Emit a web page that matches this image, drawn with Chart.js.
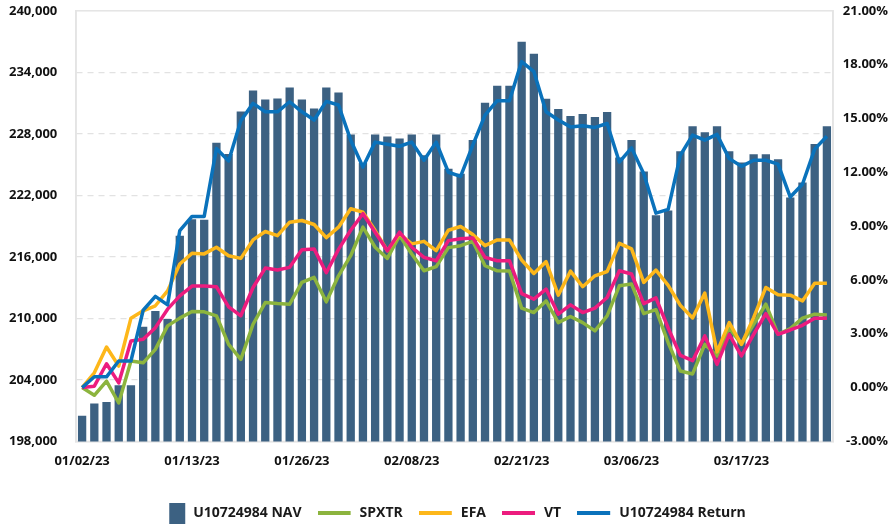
<!DOCTYPE html>
<html>
<head>
<meta charset="utf-8">
<script src="https://cdn.jsdelivr.net/npm/chart.js@4.4.1/dist/chart.umd.min.js"></script>
<style>
  html, body { margin: 0; padding: 0; background: #fff; }
  #wrap { width: 892px; height: 524px; }
</style>
</head>
<body>
<div id="wrap"><canvas id="navChart" width="892" height="524"></canvas></div>
<script>
const dates = [
  "01/02/23","01/03/23","01/04/23","01/05/23","01/06/23","01/09/23","01/10/23","01/11/23","01/12/23","01/13/23",
  "01/16/23","01/17/23","01/18/23","01/19/23","01/20/23","01/23/23","01/24/23","01/25/23","01/26/23","01/27/23",
  "01/30/23","01/31/23","02/01/23","02/02/23","02/03/23","02/06/23","02/07/23","02/08/23","02/09/23","02/10/23",
  "02/13/23","02/14/23","02/15/23","02/16/23","02/17/23","02/20/23","02/21/23","02/22/23","02/23/23","02/24/23",
  "02/27/23","02/28/23","03/01/23","03/02/23","03/03/23","03/06/23","03/07/23","03/08/23","03/09/23","03/10/23",
  "03/13/23","03/14/23","03/15/23","03/16/23","03/17/23","03/20/23","03/21/23","03/22/23","03/23/23","03/24/23",
  "03/27/23","03/28/23"
];

// account NAV (left axis)
const navValues = [
  200500, 201700, 201850, 203480, 203480, 209180, 210710, 209930, 218050, 219680,
  219610, 227140, 226040, 230180, 232230, 231350, 231450, 232520, 231350, 230470,
  232520, 232030, 227930, 225150, 227930, 227730, 227540, 227930, 225900, 227930,
  224600, 224100, 227390, 231040, 232680, 232680, 236990, 235810, 231410, 230430,
  229740, 229940, 229650, 230130, 225700, 227390, 224330, 220050, 220510, 226290,
  228730, 228150, 228730, 226290, 225200, 226020, 226020, 225530, 221800, 223250,
  227000, 228730
];

// cumulative returns in % (right axis)
const spxtr = [
  0, -0.43, 0.36, -0.86, 1.48, 1.38, 2.13, 3.44, 3.87, 4.24,
  4.22, 4.00, 2.41, 1.57, 3.53, 4.74, 4.68, 4.65, 5.86, 6.14,
  4.78, 6.23, 7.35, 8.94, 7.82, 7.20, 8.47, 7.45, 6.51, 6.74,
  7.80, 7.91, 8.15, 6.79, 6.51, 6.50, 4.43, 4.18, 4.83, 3.62,
  3.96, 3.62, 3.16, 4.00, 5.67, 5.77, 4.12, 4.34, 2.50, 0.92,
  0.76, 2.41, 1.76, 3.34, 2.41, 3.53, 4.65, 2.97, 3.29, 3.87,
  4.09, 4.05
];
const efa = [
  0, 0.82, 2.26, 1.20, 3.87, 4.28, 4.56, 5.39, 6.89, 7.48,
  7.45, 7.82, 7.35, 7.20, 8.23, 8.70, 8.47, 9.22, 9.31, 9.09,
  8.36, 8.94, 9.97, 9.78, 8.75, 7.63, 8.57, 8.01, 8.15, 7.63,
  8.77, 8.98, 8.53, 7.91, 8.23, 8.23, 7.11, 6.36, 7.02, 5.15,
  6.49, 5.62, 6.23, 6.47, 8.04, 7.73, 5.86, 6.55, 5.70, 4.58,
  3.88, 5.27, 1.99, 3.62, 2.41, 3.90, 5.58, 5.17, 5.15, 4.83,
  5.82, 5.82
];
const vt = [
  0, 0.08, 1.33, 0.26, 2.60, 2.69, 3.34, 4.37, 5.11, 5.66,
  5.66, 5.62, 4.50, 4.00, 5.58, 6.66, 6.55, 6.70, 7.68, 7.73,
  6.40, 7.70, 8.77, 9.69, 8.66, 7.63, 8.66, 7.82, 7.26, 7.07,
  8.19, 8.29, 8.34, 7.26, 7.07, 7.07, 5.24, 4.93, 5.49, 4.09,
  4.61, 4.18, 4.43, 5.02, 6.51, 6.33, 4.68, 5.00, 3.32, 1.79,
  1.50, 2.88, 1.29, 2.97, 1.76, 2.97, 4.12, 2.97, 3.21, 3.47,
  3.87, 3.87
];
const acctReturn = [
  0, 0.60, 0.60, 1.48, 1.48, 4.31, 5.08, 4.61, 8.75, 9.54,
  9.54, 13.32, 12.63, 14.87, 15.84, 15.37, 15.37, 15.93, 15.37, 14.91,
  15.95, 15.75, 13.79, 12.29, 13.68, 13.56, 13.45, 13.68, 12.67, 13.68,
  12.00, 11.77, 13.51, 15.19, 15.99, 15.99, 18.17, 17.61, 15.37, 14.91,
  14.53, 14.59, 14.50, 14.72, 12.57, 13.36, 11.92, 9.72, 9.93, 12.95,
  14.07, 13.79, 14.11, 12.76, 12.33, 12.67, 12.67, 12.45, 10.62, 11.33,
  13.29, 14.01
];

const COLORS = {
  nav: "#3c6182",
  spxtr: "#8cb43e",
  efa: "#fdb71a",
  vt: "#ec1c7e",
  ret: "#0a72bb"
};
const FONT = "'Open Sans', 'Noto Sans', sans-serif";
const LEG_W = 35;

// little images used as legend markers
function legendBox(color) {
  const c = document.createElement("canvas");
  c.width = LEG_W; c.height = 21;
  const g = c.getContext("2d");
  g.fillStyle = color;
  g.fillRect(LEG_W - 17, 0, 16, 21);
  return c;
}
function legendLine(color) {
  const c = document.createElement("canvas");
  c.width = LEG_W; c.height = 4;
  const g = c.getContext("2d");
  g.fillStyle = color;
  g.fillRect(0, 0, LEG_W - 2, 4);
  return c;
}

// light frame around the plot area
const frame = {
  id: "frame",
  beforeDatasetsDraw(chart) {
    const a = chart.chartArea, ctx = chart.ctx;
    ctx.save();
    ctx.strokeStyle = "#e4e4e4";
    ctx.lineWidth = 1.5;
    ctx.strokeRect(a.left, a.top, a.right - a.left, a.bottom - a.top);
    ctx.restore();
  }
};

function lineSet(label, data, color, order) {
  return {
    type: "line",
    label: label,
    data: data,
    yAxisID: "y1",
    borderColor: color,
    backgroundColor: color,
    borderWidth: 3.5,
    pointRadius: 0,
    pointHoverRadius: 0,
    tension: 0,
    borderJoinStyle: "round",
    order: order
  };
}

const tickFont = { family: FONT, size: 13, weight: "bold" };

const ctx = document.getElementById("navChart").getContext("2d");
new Chart(ctx, {
  data: {
    labels: dates,
    datasets: [
      {
        type: "bar",
        label: "U10724984 NAV",
        data: navValues,
        yAxisID: "y",
        backgroundColor: COLORS.nav,
        barPercentage: 0.68,
        categoryPercentage: 1,
        order: 5
      },
      lineSet("SPXTR", spxtr, COLORS.spxtr, 4),
      lineSet("EFA", efa, COLORS.efa, 3),
      lineSet("VT", vt, COLORS.vt, 2),
      lineSet("U10724984 Return", acctReturn, COLORS.ret, 1)
    ]
  },
  options: {
    responsive: false,
    devicePixelRatio: 1,
    animation: false,
    layout: { padding: { left: 9, right: 4, top: 0, bottom: -6 } },
    plugins: {
      title: { display: false },
      tooltip: { enabled: false },
      legend: {
        position: "bottom",
        labels: {
          usePointStyle: true,
          pointStyleWidth: LEG_W,
          boxWidth: LEG_W,
          padding: 16,
          color: "#1a1a1a",
          font: { family: FONT, size: 14, weight: "bold" },
          sort: (a, b) => a.datasetIndex - b.datasetIndex,
          generateLabels(chart) {
            return chart.data.datasets.map((ds, i) => ({
              text: ds.label,
              datasetIndex: i,
              hidden: false,
              lineWidth: 0,
              fontColor: "#1a1a1a",
              pointStyle: ds.type === "bar" ? legendBox(ds.backgroundColor) : legendLine(ds.borderColor)
            }));
          }
        }
      }
    },
    scales: {
      x: {
        grid: { display: false, drawTicks: false },
        border: { display: true, color: "#e4e4e4", width: 1.5 },
        afterFit: scale => { scale.height += 9; },
        ticks: {
          autoSkip: false,
          maxRotation: 0,
          padding: 12,
          color: "#111",
          font: tickFont,
          callback: function (val, idx) {
            return idx % 9 === 0 ? this.getLabelForValue(val) : "";
          }
        }
      },
      y: {
        position: "left",
        min: 198000,
        max: 240000,
        afterFit: scale => { scale.width = 67; },
        grid: {
          drawTicks: false,
          color: c => (c.tick && (c.tick.value === 198000 || c.tick.value === 240000)) ? "rgba(0,0,0,0)" : "#e2e2e2",
          lineWidth: 1.2
        },
        border: { display: true, color: "#e4e4e4", width: 1.5, dash: [6, 5] },
        ticks: {
          stepSize: 6000,
          padding: 3,
          crossAlign: "far",
          color: "#111",
          font: tickFont,
          callback: v => v.toLocaleString("en-US")
        }
      },
      y1: {
        position: "right",
        min: -3,
        max: 21,
        afterFit: scale => { scale.width = 55; },
        grid: { display: false, drawTicks: false },
        border: { display: true, color: "#e4e4e4", width: 1.5 },
        ticks: {
          stepSize: 3,
          padding: 3,
          crossAlign: "far",
          color: "#111",
          font: tickFont,
          callback: v => v.toFixed(2) + "%"
        }
      }
    }
  },
  plugins: [frame]
});
</script>
</body>
</html>
